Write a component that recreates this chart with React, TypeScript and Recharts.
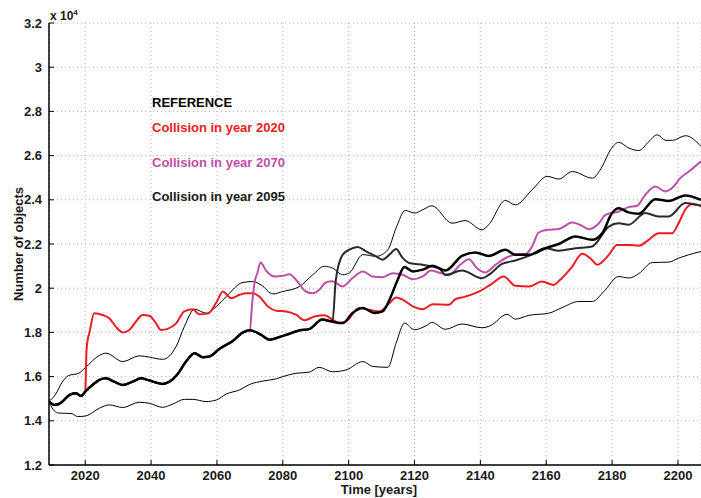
import { CartesianGrid, Line, LineChart, XAxis, YAxis } from "recharts";

// [year, number of objects in units of 10^4]
const referenceSeries: [number, number][] = [
  [2009, 1.487], [2010.6, 1.472], [2012, 1.476], [2015.6, 1.52], [2017.2, 1.525], [2018.7, 1.512],
  [2020, 1.532], [2022.2, 1.562], [2024.3, 1.585], [2026.3, 1.592], [2028.8, 1.577], [2031.4, 1.562],
  [2034.4, 1.577], [2036.9, 1.592], [2039.5, 1.582], [2043.5, 1.567], [2045.6, 1.577], [2048.1, 1.612],
  [2050.6, 1.668], [2053.2, 1.706], [2055.7, 1.688], [2057.7, 1.691], [2060.8, 1.726], [2064.8, 1.761],
  [2067.9, 1.8], [2070, 1.81], [2073.4, 1.789], [2076, 1.767], [2079, 1.779], [2082, 1.794],
  [2085, 1.809], [2088, 1.815], [2092, 1.858], [2094.6, 1.85], [2098.2, 1.842], [2101.2, 1.888],
  [2104.3, 1.91], [2107.8, 1.888], [2110.3, 1.895], [2112.4, 1.948], [2114.9, 2.038], [2116.9, 2.096],
  [2119.5, 2.076], [2122.5, 2.084], [2125.5, 2.102], [2129.4, 2.08], [2134.4, 2.146], [2138.5, 2.162],
  [2142.5, 2.146], [2147.6, 2.174], [2150.6, 2.151], [2154.7, 2.151], [2159.8, 2.181], [2163.8, 2.2],
  [2168.9, 2.234], [2173.9, 2.219], [2177, 2.249], [2180, 2.34], [2182, 2.362], [2185, 2.343],
  [2188.1, 2.337], [2193.1, 2.403], [2197.2, 2.395], [2202.2, 2.42], [2207, 2.4]
];

const after2020: [number, number][] = [
  [2020.4, 1.72], [2020.8, 1.77], [2021.3, 1.8], [2022.7, 1.887], [2025.3, 1.879], [2027.3, 1.864],
  [2029.3, 1.826], [2031.4, 1.8], [2033.4, 1.811], [2035.4, 1.849], [2037.4, 1.879], [2039.5, 1.875],
  [2041.5, 1.841], [2043, 1.811], [2045, 1.816], [2047.6, 1.841], [2050.1, 1.895], [2052.7, 1.905],
  [2054.5, 1.882], [2057.3, 1.885], [2059.8, 1.935], [2061.8, 1.985], [2064.3, 1.955], [2066.9, 1.97],
  [2068.9, 1.977], [2070.9, 1.977], [2072.9, 1.962], [2075.5, 1.917], [2078, 1.898], [2081, 1.895],
  [2084, 1.88], [2086.6, 1.855], [2089.6, 1.872], [2092.6, 1.878], [2095.2, 1.857], [2097.2, 1.843],
  [2099.2, 1.85], [2103.2, 1.91], [2106.3, 1.902], [2109.3, 1.895], [2112.4, 1.933], [2114.4, 1.958],
  [2116.4, 1.948], [2119.5, 1.918], [2122.5, 1.905], [2125.5, 1.927], [2130.4, 1.925], [2132.4, 1.95],
  [2135.4, 1.962], [2140, 1.988], [2143, 2.015], [2147.1, 2.053], [2150.6, 2.011], [2154.7, 2.008],
  [2158.7, 2.03], [2162.3, 2.015], [2164, 2.035], [2167.9, 2.098], [2170.9, 2.156], [2173.9, 2.128],
  [2175.5, 2.106], [2179, 2.151], [2181.5, 2.196], [2185, 2.196], [2188.1, 2.192], [2191.1, 2.219],
  [2194.1, 2.249], [2198.2, 2.249], [2200.2, 2.294], [2202.2, 2.355], [2204.2, 2.38], [2207, 2.373]
];

const after2070: [number, number][] = [
  [2070.7, 1.932], [2071.4, 2.023], [2072.3, 2.07], [2073.2, 2.116], [2075, 2.078], [2077.5, 2.053],
  [2080, 2.056], [2082, 2.063], [2084, 2.038], [2087, 1.985], [2089.1, 1.977], [2091.1, 1.993],
  [2093.1, 2.026], [2095.1, 2.031], [2098.2, 2.008], [2101.2, 2.046], [2104.3, 2.076], [2107.3, 2.053],
  [2110.3, 2.05], [2113.4, 2.068], [2116.4, 2.061], [2119.5, 2.04], [2122.5, 2.053], [2125, 2.08],
  [2127.5, 2.07], [2130.4, 2.06], [2133.9, 2.106], [2136.5, 2.131], [2139, 2.09], [2141.5, 2.071],
  [2144.6, 2.106], [2148.1, 2.14], [2151.7, 2.155], [2153.7, 2.155], [2155.7, 2.189], [2157.7, 2.252],
  [2160.3, 2.264], [2163.8, 2.268], [2167.9, 2.297], [2170.9, 2.282], [2172.9, 2.267], [2176, 2.294],
  [2178, 2.332], [2182, 2.347], [2185, 2.367], [2187.6, 2.373], [2190.1, 2.423], [2193.1, 2.46],
  [2196.2, 2.438], [2198.7, 2.46], [2200.7, 2.498], [2203.3, 2.528], [2207, 2.574]
];

const after2095: [number, number][] = [
  [2095.1, 1.85], [2096.1, 2.038], [2098.2, 2.152], [2100.2, 2.174], [2102.7, 2.186], [2105.3, 2.167],
  [2108.3, 2.144], [2110.3, 2.129], [2112.4, 2.152], [2114.4, 2.177], [2116.4, 2.137], [2118.4, 2.114],
  [2121.5, 2.108], [2124.5, 2.1], [2127.6, 2.088], [2129.4, 2.06], [2134.4, 2.08], [2140.5, 2.045],
  [2142.5, 2.06], [2146.6, 2.11], [2150.6, 2.125], [2154.7, 2.146], [2159.8, 2.181], [2163.8, 2.17],
  [2168.9, 2.181], [2173.9, 2.189], [2179, 2.279], [2182, 2.294], [2185, 2.287], [2190.1, 2.34],
  [2194.1, 2.325], [2197.2, 2.325], [2202.2, 2.385], [2207, 2.373]
];

const upperBound: [number, number][] = [
  [2009, 1.487], [2011, 1.52], [2013, 1.575], [2015, 1.605], [2018, 1.615], [2020, 1.64],
  [2024.3, 1.696], [2026.3, 1.706], [2031.4, 1.668], [2036.4, 1.694], [2039.5, 1.688], [2043.5, 1.678],
  [2047.6, 1.736], [2050.1, 1.826], [2053.2, 1.905], [2056.7, 1.887], [2059.8, 1.917], [2062.8, 1.962],
  [2067.9, 2.026], [2070.9, 2.03], [2073.4, 2.015], [2077, 1.974], [2080, 1.985], [2085, 2.007],
  [2089.1, 2.061], [2092.6, 2.099], [2095.1, 2.091], [2098.2, 2.061], [2100.2, 2.069], [2104.3, 2.152],
  [2108.3, 2.144], [2111.9, 2.174], [2114.4, 2.272], [2117.2, 2.352], [2120, 2.34], [2122.5, 2.355],
  [2125.3, 2.373], [2131.4, 2.294], [2135.4, 2.306], [2140.5, 2.264], [2142.5, 2.287], [2147.6, 2.397],
  [2150.6, 2.377], [2155.7, 2.445], [2160.3, 2.506], [2163.8, 2.494], [2167.9, 2.528], [2174, 2.498],
  [2177, 2.551], [2179.5, 2.626], [2182, 2.66], [2185.1, 2.634], [2188.1, 2.623], [2191.2, 2.664],
  [2193.7, 2.694], [2196.3, 2.669], [2198.3, 2.669], [2202.3, 2.69], [2207, 2.642]
];

const lowerBound: [number, number][] = [
  [2009, 1.487], [2010.6, 1.445], [2012, 1.435], [2014.1, 1.434], [2016, 1.432], [2017.7, 1.419],
  [2020.2, 1.422], [2024.3, 1.457], [2027.3, 1.472], [2031.4, 1.46], [2036.4, 1.484], [2039.5, 1.479],
  [2043.5, 1.461], [2046.6, 1.476], [2050.1, 1.497], [2052.7, 1.497], [2056.7, 1.487], [2059.8, 1.494],
  [2062.8, 1.521], [2066.9, 1.54], [2070, 1.565], [2074, 1.58], [2078, 1.59], [2080, 1.6],
  [2084, 1.615], [2088, 1.62], [2091, 1.642], [2095.1, 1.622], [2099.2, 1.63], [2104.3, 1.668],
  [2107.3, 1.646], [2111.9, 1.642], [2114.4, 1.751], [2117, 1.842], [2120, 1.812], [2123.5, 1.83],
  [2125.3, 1.845], [2129.4, 1.814], [2134.4, 1.838], [2140.5, 1.821], [2143, 1.83], [2148.1, 1.882],
  [2150.6, 1.86], [2154.7, 1.877], [2160.8, 1.887], [2164.8, 1.912], [2169.9, 1.94], [2174, 1.94],
  [2177.5, 1.985], [2182, 2.053], [2185.1, 2.046], [2188.1, 2.066], [2192.2, 2.116], [2197.2, 2.118],
  [2200.2, 2.136], [2203.2, 2.151], [2207, 2.166]
];

const xTicks = [2020, 2040, 2060, 2080, 2100, 2120, 2140, 2160, 2180, 2200];
const yTicks = [1.2, 1.4, 1.6, 1.8, 2, 2.2, 2.4, 2.6, 2.8, 3, 3.2];

const font = "'Liberation Sans', Arial, Helvetica, sans-serif";

const toPoints = (s: [number, number][]) => s.map(([x, y]) => ({ x, y }));
const branch = (split: number, rest: [number, number][]) =>
  toPoints([...referenceSeries.filter(([yr]) => yr <= split), ...rest]);

const tickStyle = { fontSize: 13, fontWeight: 700, fill: "#1a1a1a", fontFamily: font };

export default function App() {
  const text = (top: number, color: string, label: string) => (
    <div style={{ position: "absolute", left: 152, top, fontSize: 13, fontWeight: 700, lineHeight: 1, color, fontFamily: font, whiteSpace: "nowrap" }}>
      {label}
    </div>
  );

  return (
    <div style={{ position: "absolute", left: 0, top: 0, width: 701, height: 498, background: "#fff" }}>
      <LineChart width={701} height={498} margin={{ top: 23, right: 0, bottom: 0, left: 0 }}>
        <CartesianGrid stroke="#b5b5b5" strokeDasharray="1 3" />
        <XAxis
          dataKey="x"
          type="number"
          domain={[2009, 2207]}
          ticks={xTicks}
          allowDataOverflow
          height={33}
          tick={tickStyle}
          tickSize={-5}
          tickMargin={11}
          axisLine={{ stroke: "#000", strokeWidth: 1.5 }}
          tickLine={{ stroke: "#000" }}
        />
        <XAxis
          xAxisId="top"
          orientation="top"
          dataKey="x"
          type="number"
          domain={[2009, 2207]}
          ticks={xTicks}
          height={0}
          tick={false}
          tickSize={-5}
          axisLine={{ stroke: "#000", strokeWidth: 1.5 }}
          tickLine={{ stroke: "#000" }}
        />
        <YAxis
          type="number"
          domain={[1.2, 3.2]}
          ticks={yTicks}
          allowDataOverflow
          width={49}
          tick={tickStyle}
          tickSize={-5}
          tickMargin={12}
          tickFormatter={(v: number) => String(Number(v.toFixed(1)))}
          axisLine={{ stroke: "#000", strokeWidth: 1.5 }}
          tickLine={{ stroke: "#000" }}
        />
        <Line data={toPoints(upperBound)} dataKey="y" type="monotone" stroke="#000" strokeWidth={1} dot={false} isAnimationActive={false} />
        <Line data={toPoints(lowerBound)} dataKey="y" type="monotone" stroke="#000" strokeWidth={1} dot={false} isAnimationActive={false} />
        <Line data={branch(2020, after2020)} dataKey="y" type="monotone" stroke="#ed1c24" strokeWidth={2} dot={false} isAnimationActive={false} />
        <Line data={branch(2070, after2070)} dataKey="y" type="monotone" stroke="#bf4fa8" strokeWidth={2} dot={false} isAnimationActive={false} />
        <Line data={branch(2094.6, after2095)} dataKey="y" type="monotone" stroke="#2a2a2a" strokeWidth={2} dot={false} isAnimationActive={false} />
        <Line data={toPoints(referenceSeries)} dataKey="y" type="monotone" stroke="#000" strokeWidth={2.5} dot={false} isAnimationActive={false} />
      </LineChart>

      <div style={{ position: "absolute", left: 50, top: 9, fontSize: 12, fontWeight: 700, lineHeight: 1, fontFamily: font, color: "#1a1a1a" }}>
        x 10<sup style={{ fontSize: 8, verticalAlign: 5 }}>4</sup>
      </div>
      <div
        style={{
          position: "absolute", left: 18, top: 244, transform: "translate(-50%, -50%) rotate(-90deg)",
          fontSize: 13, fontWeight: 700, fontFamily: font, whiteSpace: "nowrap", color: "#1a1a1a"
        }}
      >
        Number of objects
      </div>
      <div style={{ position: "absolute", left: 379, top: 483, transform: "translateX(-50%)", fontSize: 13, fontWeight: 700, lineHeight: 1, fontFamily: font, whiteSpace: "nowrap", color: "#1a1a1a" }}>
        Time [years]
      </div>

      {text(96, "#000", "REFERENCE")}
      {text(121, "#ed1c24", "Collision in year 2020")}
      {text(156, "#bf4fa8", "Collision in year 2070")}
      {text(190, "#1a1a1a", "Collision in year 2095")}
    </div>
  );
}
